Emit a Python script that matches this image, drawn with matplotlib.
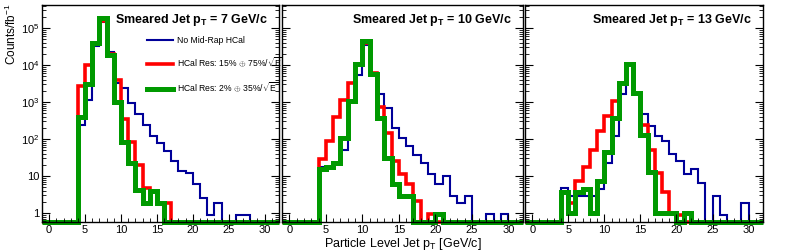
import numpy as np
import matplotlib
matplotlib.use("Agg")
import matplotlib.pyplot as plt
from matplotlib.ticker import FixedLocator, LogLocator, MultipleLocator, FuncFormatter

plt.rcParams['font.family'] = ['Liberation Sans', 'DejaVu Sans']
plt.rcParams['mathtext.fontset'] = 'custom'
plt.rcParams['mathtext.rm'] = 'Liberation Sans'
plt.rcParams['mathtext.bf'] = 'Liberation Sans:bold'

# bin edges (1 GeV/c bins), values start at bin 4-5
edges = np.arange(-1, 33)
first_bin = 4

# smeared jet pT = 7 GeV/c
blue_7 = [245, 1150, 3.2e4, 1.5e5, 2.3e4, 3200, 2400, 930, 460, 245, 123, 78, 47, 25, 14, 12,
          5.9, 2.6, 0.9, 1.9, 0, 0, 0.9, 0.9]
red_7 = [2750, 1.0e4, 4.0e4, 1.6e5, 2.0e4, 4000, 350, 81, 20, 4.8, 3.9, 1.9, 1.9]
green_7 = [400, 3100, 4.0e4, 1.9e5, 1.9e4, 980, 81, 22, 4.3, 1.9, 3.9, 1.9]

# smeared jet pT = 10 GeV/c
blue_10 = [17, 18, 22, 51, 1050, 5500, 3.5e4, 6000, 1600, 690, 200, 107, 63, 38, 22, 11,
           5.9, 9.8, 2.8, 1.9, 2.8, 0, 0, 0.95, 0, 0.95]
red_10 = [28, 87, 390, 1150, 3200, 1.0e4, 4.0e4, 6000, 720, 145, 25, 11, 5.9, 2.1, 0, 0.95]
green_10 = [15, 18, 22, 107, 1050, 1.1e4, 4.4e4, 5900, 370, 31, 5.9, 2.8, 2.8, 0, 0, 0, 0.95]

# smeared jet pT = 13 GeV/c
blue_13 = [4.6, 2.8, 2.8, 2.8, 2.8, 4.5, 22, 117, 1600, 1.0e4, 1600, 460, 220, 117, 87, 40,
           25, 11, 15.5, 6.5, 0, 2.8, 0.9, 0, 0, 1.9]
red_13 = [3.7, 1.9, 7.2, 18, 51, 160, 410, 1050, 3200, 1.0e4, 1600, 245, 51, 12, 3.6, 1, 0.9]
green_13 = [3.7, 1, 3.7, 4.5, 1, 7.2, 44, 370, 3200, 1.1e4, 1700, 130, 12.6, 1, 1, 1, 0, 1]

titles = ['Smeared Jet p$_\\mathbf{T}$ = 7 GeV/c',
          'Smeared Jet p$_\\mathbf{T}$ = 10 GeV/c',
          'Smeared Jet p$_\\mathbf{T}$ = 13 GeV/c']
labels = ['No Mid-Rap HCal',
          r'HCal Res: 15% $\oplus$ 75%/$\sqrt{\mathregular{E}}$',
          r'HCal Res: 2% $\oplus$ 35%/$\sqrt{\mathregular{E}}$']

panels = [(blue_7, red_7, green_7), (blue_10, red_10, green_10), (blue_13, red_13, green_13)]
colors = ['#000099', '#ff0000', '#009900']
widths = [1.5, 2.6, 3.6]

ymin, ymax = 0.57, 4.2e5


def full(vals):
    v = np.zeros(len(edges) - 1)
    start = first_bin - edges[0]
    v[start:start + len(vals)] = vals
    return np.where(v > 0, v, ymin)


def yfmt(v, pos):
    e = int(round(np.log10(v)))
    if e == 0:
        return '1'
    if e == 1:
        return '10'
    return r'$\mathregular{10^{%d}}$' % e


fig = plt.figure(figsize=(7.89, 2.52), dpi=100)
boxes = [(42, 279), (282, 523), (525, 763)]
bottom, top = 1 - 222 / 252, 1 - 5 / 252

for i, (hists, (x0, x1)) in enumerate(zip(panels, boxes)):
    ax = fig.add_axes([x0 / 789, bottom, (x1 - x0) / 789, top - bottom])
    for vals, c, w, lab in zip(hists, colors, widths, labels):
        ax.stairs(full(vals), edges, color=c, lw=w, baseline=None, clip_on=False, label=lab)
    ax.set_yscale('log')
    ax.set_xlim(-1, 32)
    ax.set_ylim(ymin, ymax)
    ax.xaxis.set_major_locator(FixedLocator([0, 5, 10, 15, 20, 25, 30]))
    ax.xaxis.set_minor_locator(MultipleLocator(1))
    ax.yaxis.set_major_locator(LogLocator(base=10, numticks=10))
    ax.yaxis.set_minor_locator(LogLocator(base=10, subs=np.arange(2, 10), numticks=20))
    ax.yaxis.set_major_formatter(FuncFormatter(yfmt))
    ax.tick_params(which='both', direction='in', top=False, right=True, labelsize=8, pad=2)
    ax.tick_params(which='major', length=6, width=0.8)
    ax.tick_params(which='minor', length=3, width=0.6)
    if i > 0:
        ax.tick_params(labelleft=False)
    for s in ax.spines.values():
        s.set_linewidth(1.0)
    ax.text(0.955, 0.93, titles[i], transform=ax.transAxes, ha='right', va='center',
            fontsize=9, fontweight='bold')
    if i == 0:
        ax.legend(loc='upper left', bbox_to_anchor=(0.43, 0.875), frameon=False, fontsize=6.2,
                  handlelength=3.0, labelspacing=1.3, handletextpad=0.5, borderaxespad=0)
    if i == 1:
        ax.set_xlabel('Particle Level Jet p$_\\mathregular{T}$ [GeV/c]', fontsize=9, labelpad=1)

fig.text(11 / 789, 1 - 4 / 252, 'Counts/fb$^{-1}$', rotation=90, ha='center', va='top', fontsize=8.5)

fig.savefig('out.png', dpi=100)
